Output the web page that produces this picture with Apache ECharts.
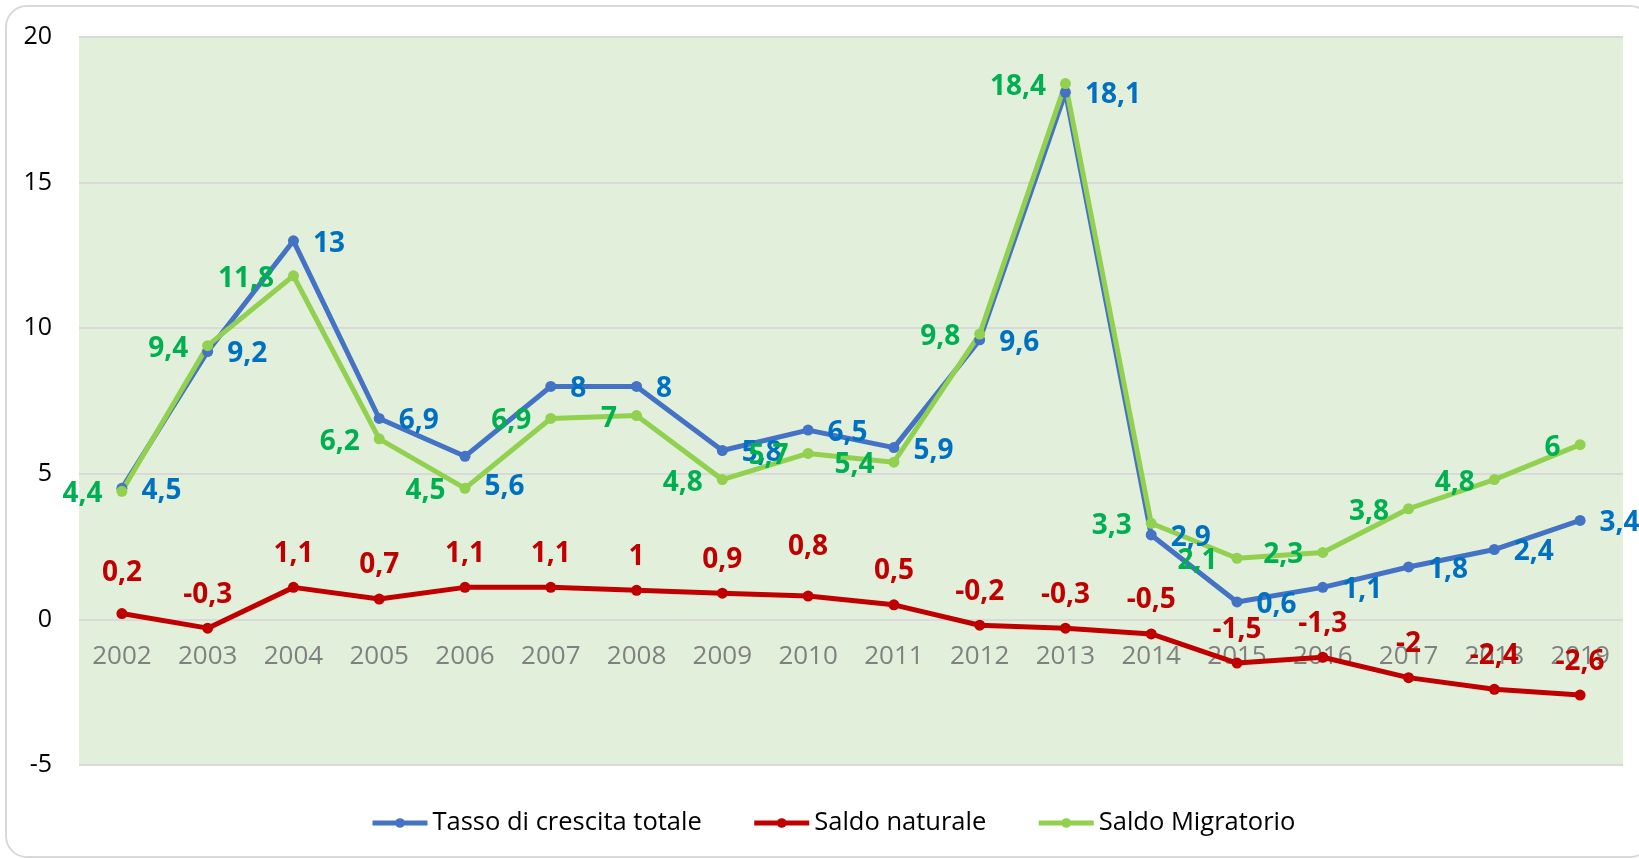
<!DOCTYPE html>
<html>
<head>
<meta charset="utf-8">
<script src="https://cdn.jsdelivr.net/npm/echarts@6/dist/echarts.min.js"></script>
<style>
  html, body { margin: 0; padding: 0; background: #ffffff; overflow: hidden; width: 1639px; height: 859px; }
  #wrap { position: absolute; left: 0; top: 0; width: 1639px; height: 859px; overflow: hidden; }
  #chart { position: absolute; left: 0; top: 0; width: 1639px; height: 859px; }
  #frame { position: absolute; left: 5px; top: 5px; width: 1647px; height: 853px;
           border: 2px solid #d9d9d9; border-radius: 22px; pointer-events: none; box-sizing: border-box; }
</style>
</head>
<body>
<div id="wrap">
  <div id="chart"></div>
  <div id="frame"></div>
</div>
<script>
const years = ['2002','2003','2004','2005','2006','2007','2008','2009','2010','2011','2012','2013','2014','2015','2016','2017','2018','2019'];
const tassoCrescita = [4.5, 9.2, 13, 6.9, 5.6, 8, 8, 5.8, 6.5, 5.9, 9.6, 18.1, 2.9, 0.6, 1.1, 1.8, 2.4, 3.4];
const saldoNaturale = [0.2, -0.3, 1.1, 0.7, 1.1, 1.1, 1, 0.9, 0.8, 0.5, -0.2, -0.3, -0.5, -1.5, -1.3, -2, -2.4, -2.6];
const saldoMigratorio = [4.4, 9.4, 11.8, 6.2, 4.5, 6.9, 7, 4.8, 5.7, 5.4, 9.8, 18.4, 3.3, 2.1, 2.3, 3.8, 4.8, 6];
const seriesNames = ['Tasso di crescita totale', 'Saldo naturale', 'Saldo Migratorio'];
const yTicks = { min: -5, max: 20, step: 5 };

// label vertical shifts in px: a base shift per series plus manual nudges by year
const labelShift = [3, 0, 3];
const labelNudge = [
  { '2006': 28 },
  { '2002': -7, '2010': -16 },
  {}
];

const fmt = p => String(p.value).replace('.', ',');
const FONT = '"Open Sans", "Noto Sans", sans-serif';

function lineSeries(idx, data, lineColor, labelColor, pos, dist) {
  return {
    name: seriesNames[idx],
    type: 'line',
    data: data,
    symbol: 'circle',
    symbolSize: 11,
    lineStyle: { color: lineColor, width: 5 },
    itemStyle: { color: lineColor },
    label: {
      show: true, position: pos, distance: dist,
      color: labelColor, fontSize: 28, fontWeight: 'bold', fontFamily: FONT,
      formatter: fmt
    },
    labelLayout: function (p) {
      const n = labelNudge[idx][years[p.dataIndex]] || 0;
      return { dy: labelShift[idx] + n, hideOverlap: false };
    },
    emphasis: { disabled: true },
    animation: false
  };
}

const chart = echarts.init(document.getElementById('chart'), null, { renderer: 'canvas' });
chart.setOption({
  backgroundColor: 'transparent',
  animation: false,
  grid: {
    left: 79, right: 16, top: 37, bottom: 94,
    show: true, backgroundColor: '#E2EFDA', borderWidth: 0
  },
  legend: {
    data: seriesNames,
    top: 805, left: 365,
    itemWidth: 55, itemHeight: 12, itemGap: 50,
    lineStyle: { width: 5 },
    textStyle: { fontSize: 25.5, color: '#000', fontFamily: FONT }
  },
  xAxis: {
    type: 'category',
    data: years,
    boundaryGap: true,
    axisLine: { show: false, onZero: false },
    axisTick: { show: false },
    axisLabel: { color: '#808080', fontSize: 26, fontFamily: FONT, inside: true, margin: 95 },
    splitLine: { show: false }
  },
  yAxis: {
    type: 'value',
    min: yTicks.min, max: yTicks.max, interval: yTicks.step,
    axisLine: { show: false },
    axisTick: { show: false },
    axisLabel: { color: '#000', fontSize: 25, fontFamily: FONT, margin: 27 },
    splitLine: { lineStyle: { color: '#d9d9d9', width: 2 } }
  },
  series: [
    lineSeries(0, tassoCrescita, '#4472C4', '#0070C0', 'right', 14),
    lineSeries(1, saldoNaturale, '#C00000', '#C00000', 'top', 14),
    lineSeries(2, saldoMigratorio, '#92D050', '#00B050', 'left', 14)
  ]
});
</script>
</body>
</html>
